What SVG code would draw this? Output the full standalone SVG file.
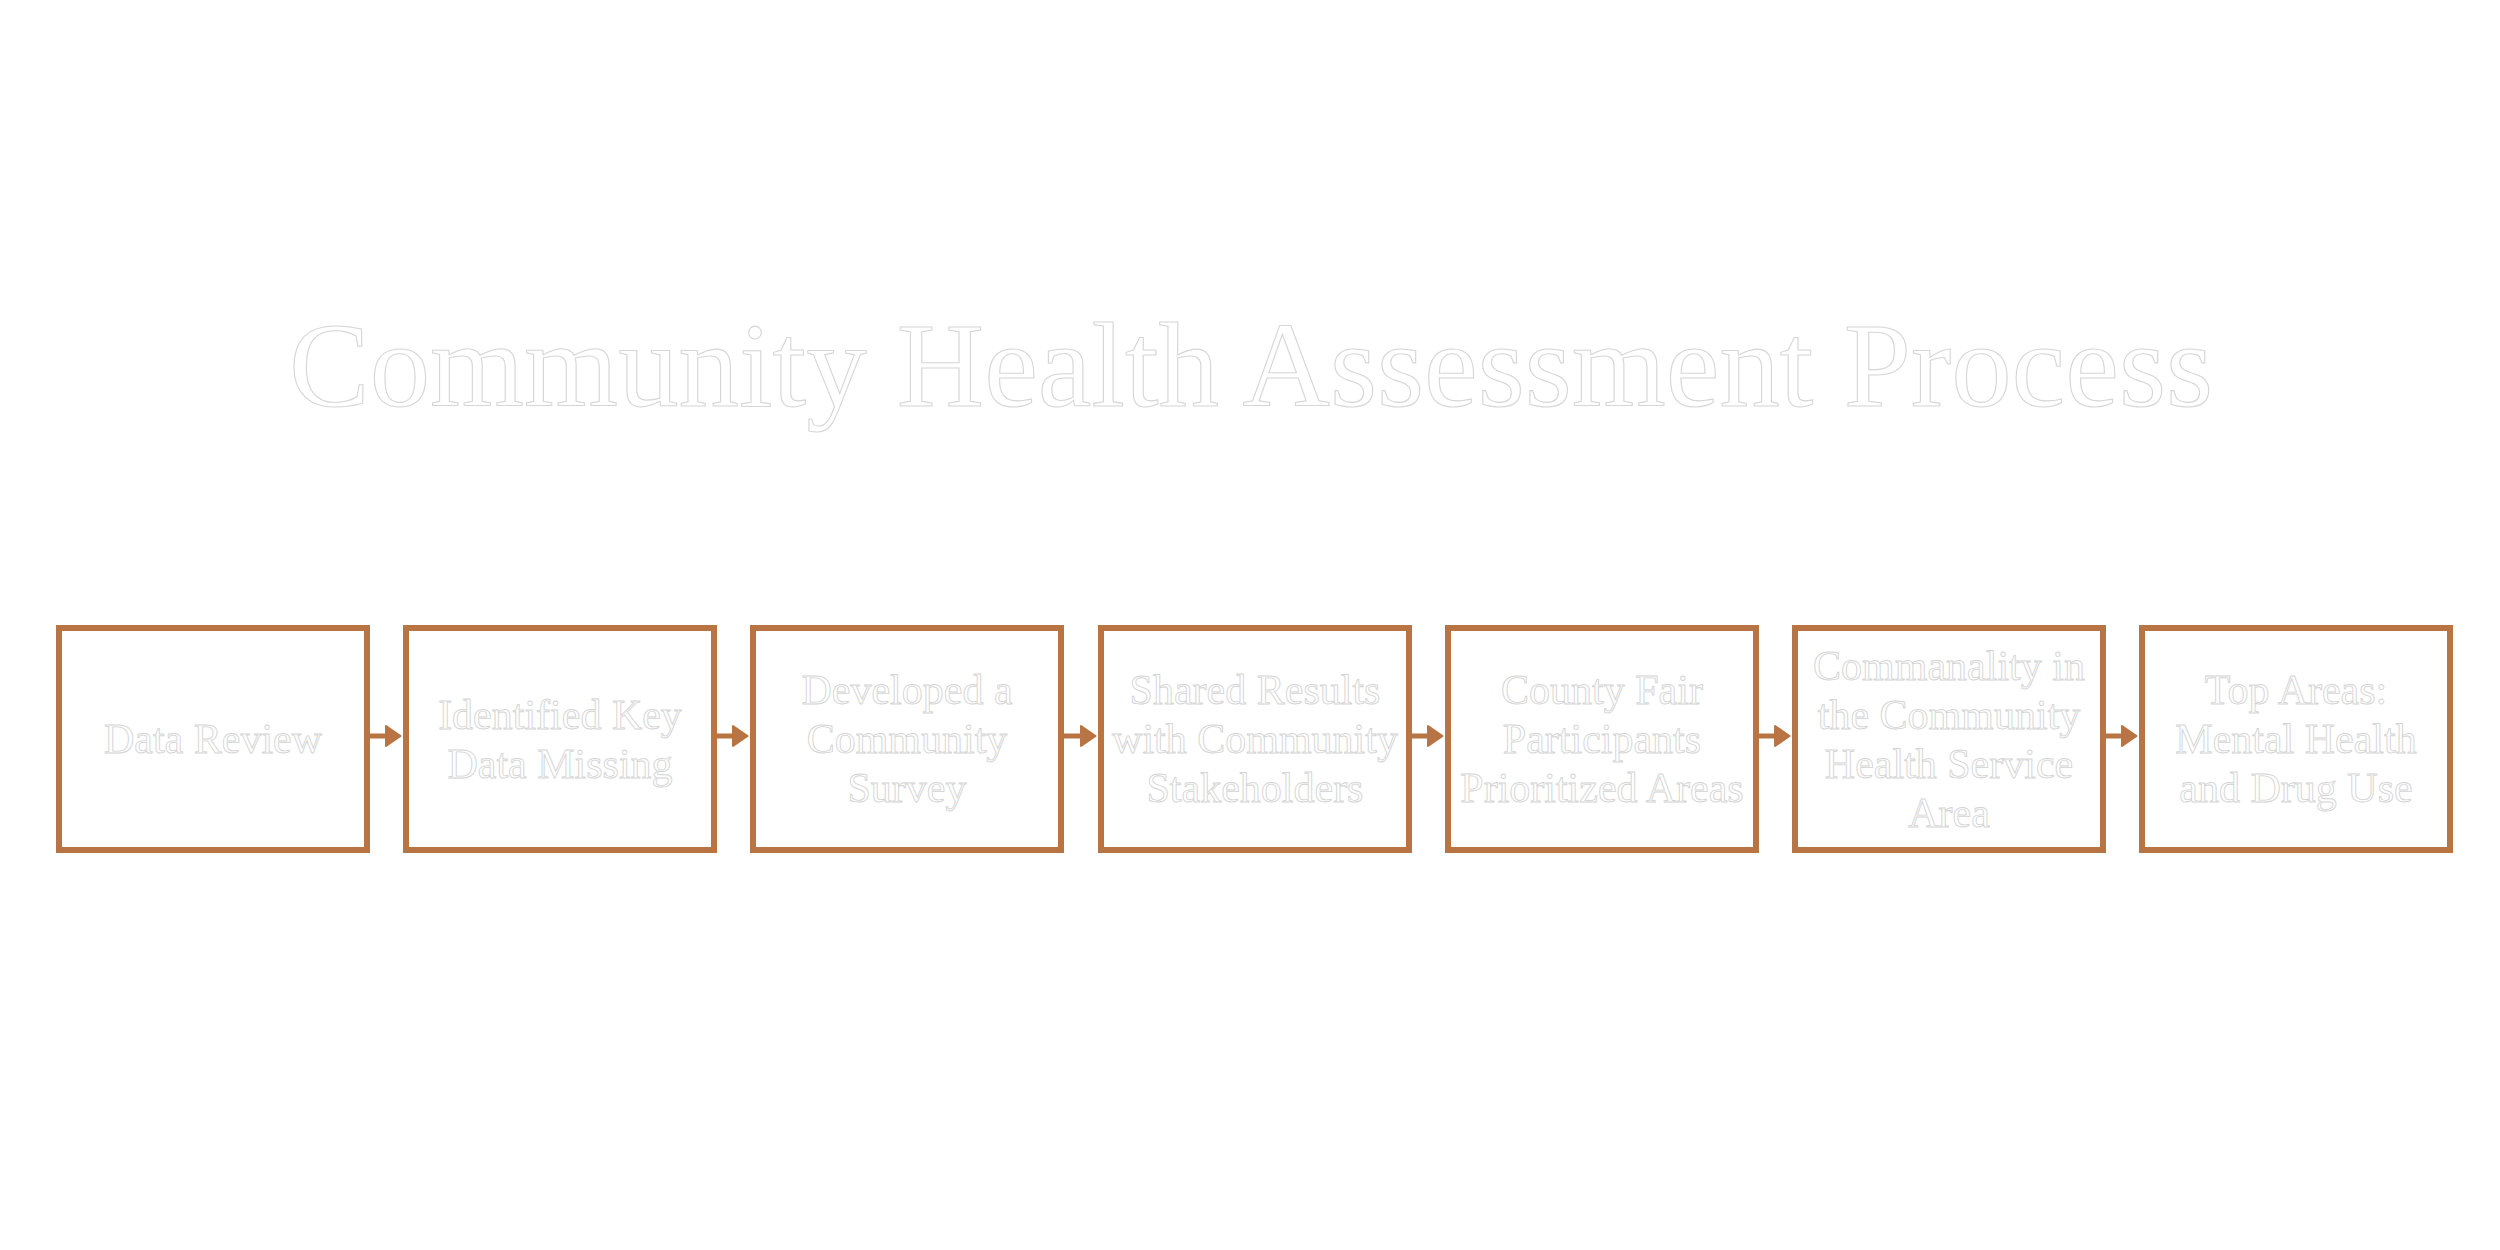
<svg xmlns="http://www.w3.org/2000/svg" width="2500" height="1250" viewBox="0 0 2500 1250">
  <style>
    .box { fill: #ffffff; stroke: #B87442; stroke-width: 6; }
    .lbl { font-family: "Liberation Serif", "DejaVu Serif", serif; font-size: 42px; fill: #ffffff; stroke: #d4d4d4; stroke-width: 0.9; text-anchor: middle; }
    .title { font-family: "Liberation Serif", "DejaVu Serif", serif; font-size: 120px; fill: #ffffff; stroke: #d6d6d6; stroke-width: 1.1; text-anchor: middle; }
    .conn { stroke: #B87442; stroke-width: 5; fill: none; marker-end: url(#arrow); }
  </style>
  <defs>
    <marker id="arrow" markerUnits="userSpaceOnUse" viewBox="0 0 18 24" refX="3" refY="12" markerWidth="18" markerHeight="24" orient="auto">
      <path d="M2,2 L16.5,12 L2,22 Z" fill="#B87442" stroke="#B87442" stroke-width="2" stroke-linejoin="round"/>
    </marker>
  </defs>
  <rect x="0" y="0" width="2500" height="1250" fill="#ffffff"/>
  <text class="title" x="1251" y="406" textLength="1924" lengthAdjust="spacingAndGlyphs">Community Health Assessment Process</text>

  <g id="connectors">
    <line class="conn" x1="370" y1="736" x2="387" y2="736"/>
    <line class="conn" x1="717" y1="736" x2="734" y2="736"/>
    <line class="conn" x1="1064" y1="736" x2="1082" y2="736"/>
    <line class="conn" x1="1412" y1="736" x2="1429" y2="736"/>
    <line class="conn" x1="1759" y1="736" x2="1776" y2="736"/>
    <line class="conn" x1="2106" y1="736" x2="2123" y2="736"/>
  </g>

  <g id="node1">
    <rect class="box" x="59" y="628" width="308" height="222"/>
    <text class="lbl" x="213" y="753">Data Review</text>
  </g>
  <g id="node2">
    <rect class="box" x="406" y="628" width="308" height="222"/>
    <text class="lbl" x="560" y="728.5">Identified Key</text>
    <text class="lbl" x="560" y="777.5">Data Missing</text>
  </g>
  <g id="node3">
    <rect class="box" x="753" y="628" width="308" height="222"/>
    <text class="lbl" x="907" y="704">Developed a</text>
    <text class="lbl" x="907" y="753">Community</text>
    <text class="lbl" x="907" y="802">Survey</text>
  </g>
  <g id="node4">
    <rect class="box" x="1101" y="628" width="308" height="222"/>
    <text class="lbl" x="1255" y="704">Shared Results</text>
    <text class="lbl" x="1255" y="753">with Community</text>
    <text class="lbl" x="1255" y="802">Stakeholders</text>
  </g>
  <g id="node5">
    <rect class="box" x="1448" y="628" width="308" height="222"/>
    <text class="lbl" x="1602" y="704">County Fair</text>
    <text class="lbl" x="1602" y="753">Participants</text>
    <text class="lbl" x="1602" y="802">Prioritized Areas</text>
  </g>
  <g id="node6">
    <rect class="box" x="1795" y="628" width="308" height="222"/>
    <text class="lbl" x="1949" y="680">Commanality in</text>
    <text class="lbl" x="1949" y="729">the Community</text>
    <text class="lbl" x="1949" y="778">Health Service</text>
    <text class="lbl" x="1949" y="827">Area</text>
  </g>
  <g id="node7">
    <rect class="box" x="2142" y="628" width="308" height="222"/>
    <text class="lbl" x="2296" y="704">Top Areas:</text>
    <text class="lbl" x="2296" y="753">Mental Health</text>
    <text class="lbl" x="2296" y="802">and Drug Use</text>
  </g>
</svg>
